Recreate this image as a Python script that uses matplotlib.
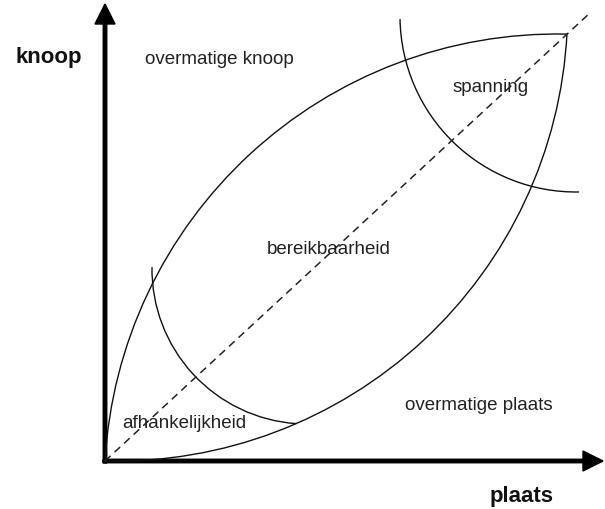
import numpy as np
import matplotlib
matplotlib.use("Agg")
import matplotlib.pyplot as plt
from matplotlib.patches import Arc

plt.rcParams['font.family'] = ['Liberation Sans', 'DejaVu Sans']

# diagram geometry, origin at the crossing of the two axes (units ~ pixels)
corner = (462, 427)             # tip of the leaf
diag_end = (486, 449)           # end of the dashed diagonal

# arcs: centre x, centre y, radius, start angle, end angle (degrees)
arc_names = ["upper", "lower", "spanning", "afhankelijkheid"]
arc_cx = [452.2, 11.1, 471, 202]
arc_cy = [-25.9, 451.4, 445, 192]
arc_r = [452.9, 451.5, 176, 155]
arc_t1 = [88.8, 268.6, 181, 179.3]
arc_t2 = [176.7, 357.0, 271, 266]

# region labels
labels = ["overmatige knoop", "spanning", "bereikbaarheid",
          "afhankelijkheid", "overmatige plaats"]
label_x = [40, 348, 162, 17, 300]
label_y = [402, 375, 213, 38, 56]

axis_labels = ["knoop", "plaats"]
axis_label_x = [-90, 385]
axis_label_y = [404, -35]

fig = plt.figure(figsize=(6.05, 5.1), dpi=100)
ax = fig.add_axes([0, 0, 1, 1])
ax.set_xlim(-105, 500)
ax.set_ylim(-48, 462)
ax.set_aspect('equal')
ax.axis('off')

# axes with arrow heads
ax.arrow(0, -2, 0, 459, width=3.5, head_width=20, head_length=20,
         length_includes_head=True, color='black')
ax.arrow(-2, 0, 500, 0, width=3.5, head_width=20, head_length=20,
         length_includes_head=True, color='black')

# dashed diagonal
ax.plot([0, diag_end[0]], [0, diag_end[1]], color='#222222', lw=1.1,
        dashes=(5, 3.5))

for i in range(len(arc_names)):
    ax.add_patch(Arc((arc_cx[i], arc_cy[i]), 2 * arc_r[i], 2 * arc_r[i],
                     theta1=arc_t1[i], theta2=arc_t2[i],
                     color='#111111', lw=1.0))

for t, x, y in zip(labels, label_x, label_y):
    ax.text(x, y, t, fontsize=13.5, color='#222222', ha='left', va='center')

for t, x, y in zip(axis_labels, axis_label_x, axis_label_y):
    ax.text(x, y, t, fontsize=16, fontweight='bold', color='#111111',
            ha='left', va='center')

fig.savefig("out.png", dpi=100, facecolor='white')
